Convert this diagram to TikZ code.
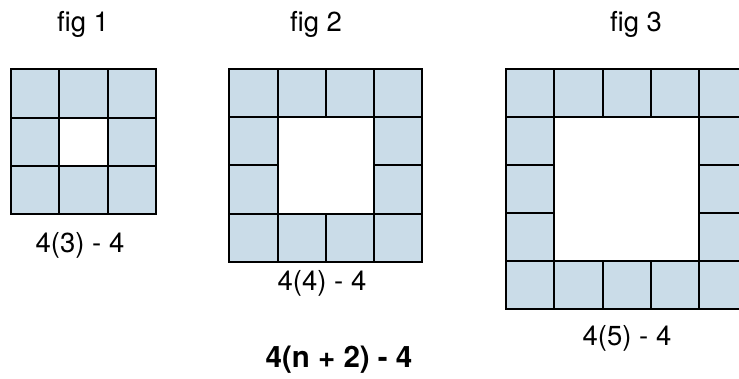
\documentclass[tikz,border=0pt]{standalone}
\usepackage{fontspec}
\setmainfont{TeX Gyre Heros}
\usetikzlibrary{positioning}
\definecolor{tilefill}{RGB}{202,220,232}

\begin{document}
\begin{tikzpicture}[x=1pt, y=-1pt,
    tile/.style={draw=black, line width=2pt},
    lbl/.style={font=\fontsize{27.5}{30}\selectfont, inner sep=0pt}]

\useasboundingbox (0,0) rectangle (739,379);
\clip (0,0) rectangle (739,379);

% fig 1
\begin{scope}[shift={(11,69.3)}, x=48.4pt, y=-48.4pt]
\fill[tilefill] (0,0) rectangle (3,3);
\fill[white] (1,1) rectangle (2,2);
\draw[tile] (0,0) rectangle (3,3) (1,1) rectangle (2,2);
\foreach \k in {1,2} {
    \draw[tile] (\k,0) -- (\k,1) (\k,2) -- (\k,3);
    \draw[tile] (0,\k) -- (1,\k) (2,\k) -- (3,\k);
}
\end{scope}

% fig 2
\begin{scope}[shift={(229.3,69)}, x=48.25pt, y=-48.2pt]
\fill[tilefill] (0,0) rectangle (4,4);
\fill[white] (1,1) rectangle (3,3);
\draw[tile] (0,0) rectangle (4,4) (1,1) rectangle (3,3);
\foreach \k in {1,2,3} {
    \draw[tile] (\k,0) -- (\k,1) (\k,3) -- (\k,4);
    \draw[tile] (0,\k) -- (1,\k) (3,\k) -- (4,\k);
}
\end{scope}

% fig 3 (runs past the right edge)
\begin{scope}[shift={(506,69)}, x=48.3pt, y=-48.1pt]
\fill[tilefill] (0,0) rectangle (5,5);
\fill[white] (1,1) rectangle (4,4);
\draw[tile] (0,0) rectangle (5,5) (1,1) rectangle (4,4);
\foreach \k in {1,...,4} {
    \draw[tile] (\k,0) -- (\k,1) (\k,4) -- (\k,5);
    \draw[tile] (0,\k) -- (1,\k) (4,\k) -- (5,\k);
}
\end{scope}

% Titles
\node[lbl] (fig1) at (83,24) {fig 1};
\node[lbl] (fig2) at (316,24) {fig 2};
\node[lbl] (fig3) at (636,24) {fig 3};

% Counts
\node[lbl] (count1) at (80,245.5) {4(3) - 4};
\node[lbl] (count2) at (322,283) {4(4) - 4};
\node[lbl] (count3) at (627,338) {4(5) - 4};
\node[lbl, font=\fontsize{29.5}{32}\selectfont\bfseries] (rule) at (339,360) {4(n + 2) - 4};

\end{tikzpicture}
\end{document}
